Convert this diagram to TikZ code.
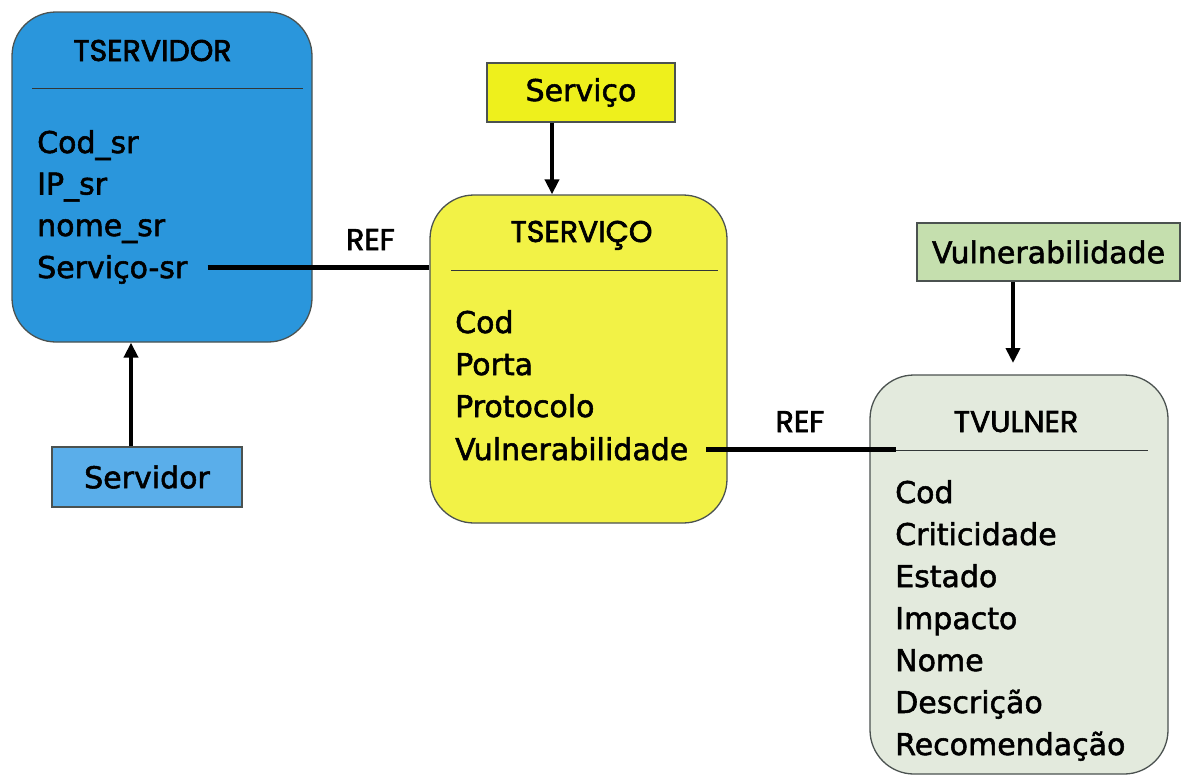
\documentclass[tikz,border=0pt]{standalone}
\usepackage{fontspec}
\setmainfont{DejaVu Sans}[FakeBold=1.8]
\newfontfamily\titlefont{Poppins}[FakeBold=2.2]
\usetikzlibrary{arrows.meta}

\definecolor{srvblue}{RGB}{42,150,220}
\definecolor{srvlight}{RGB}{90,174,234}
\definecolor{svcyellow}{RGB}{242,242,70}
\definecolor{svctag}{RGB}{238,240,28}
\definecolor{vulbox}{RGB}{227,234,221}
\definecolor{vultag}{RGB}{197,223,174}
\definecolor{boxedge}{RGB}{75,82,80}
\definecolor{sepcol}{RGB}{50,55,55}

\newcommand\fieldfont{\fontsize{30}{36}\selectfont}
\newcommand\headfont{\titlefont\fontsize{30}{34}\selectfont}

\begin{document}
\begin{tikzpicture}[x=1pt,y=-1pt,
  tbl/.style={draw=boxedge, line width=1.3pt, rounded corners=44pt, inner sep=0pt},
  tag/.style={draw=boxedge, line width=1.3pt, inner sep=0pt, font=\fieldfont},
  title/.style={font=\headfont, inner sep=0pt, anchor=base},
  field/.style={font=\fieldfont, inner sep=0pt, anchor=base west},
  reflabel/.style={font=\headfont, inner sep=0pt, anchor=base},
  sep/.style={draw=sepcol, line width=1.3pt},
  link/.style={line width=5pt},
  arr/.style={line width=4pt, -{Triangle[length=15pt,width=14pt]}},
]
\useasboundingbox (0,0) rectangle (1182,777);

% table boxes
\node[tbl, fill=srvblue, minimum width=300pt, minimum height=330pt] (tsrv) at (162,177) {};
\node[tbl, fill=svcyellow, minimum width=297pt, minimum height=328pt] (tsvc) at (578.5,359) {};
\node[tbl, fill=vulbox, minimum width=298pt, minimum height=399pt] (tvul) at (1019,574.5) {};

% label boxes
\node[tag, fill=svctag, minimum width=188pt, minimum height=59pt] (svcTag) at (581,92.5) {Serviço};
\node[tag, fill=vultag, minimum width=263pt, minimum height=58pt] (vulTag) at (1048.5,252) {Vulnerabilidade};
\node[tag, fill=srvlight, minimum width=190pt, minimum height=60pt] (srvTag) at (147,477) {Servidor};

% titles and separators
\node[title] (tsrvTitle) at (152.5,61) {TSERVIDOR};
\draw[sep] ([shift={(21pt,-77pt)}]tsrv.north west) -- ([shift={(-10pt,-77pt)}]tsrv.north east);
\node[title] (tsvcTitle) at (581.5,242) {TSERVIÇO};
\draw[sep] ([shift={(22pt,-76pt)}]tsvc.north west) -- ([shift={(-10pt,-76pt)}]tsvc.north east);
\node[title] (tvulTitle) at (1016,432) {TVULNER};
\draw[sep] ([shift={(27pt,-76pt)}]tvul.north west) -- ([shift={(-21pt,-76pt)}]tvul.north east);

% TSERVIDOR fields
\node[field] (srvCod) at (37,153) {Cod\_sr};
\node[field] (srvIp) at (37,194.5) {IP\_sr};
\node[field] (srvNome) at (37,236) {nome\_sr};
\node[field] (srvSvc) at (37,278) {Serviço-sr};

% TSERVIÇO fields
\node[field] (svcCod) at (455,333) {Cod};
\node[field] (svcPorta) at (455,375) {Porta};
\node[field] (svcProto) at (455,417) {Protocolo};
\node[field] (svcVul) at (455,460) {Vulnerabilidade};

% TVULNER fields
\node[field] (vulCod) at (895,503) {Cod};
\node[field] (vulCrit) at (895,545) {Criticidade};
\node[field] (vulEst) at (895,587) {Estado};
\node[field] (vulImp) at (895,629) {Impacto};
\node[field] (vulNome) at (895,671) {Nome};
\node[field] (vulDesc) at (895,713) {Descrição};
\node[field] (vulRec) at (895,755) {Recomendação};

% references
\node[reflabel] (ref1) at (370.5,250) {REF};
\node[reflabel] (ref2) at (800,432) {REF};
\coordinate (srvLinkA) at ([shift={(20pt,11pt)}]srvSvc.base east);
\draw[link] (srvLinkA) -- (srvLinkA -| tsvc.west);
\coordinate (svcLinkA) at ([shift={(18pt,11pt)}]svcVul.base east);
\coordinate (svcLinkB) at ([shift={(27pt,0pt)}]tvul.west);
\draw[link] (svcLinkA) -- (svcLinkA -| svcLinkB);

% arrows from the label boxes
\coordinate (svcAx) at (552,0);
\draw[arr] (svcTag.south -| svcAx) -- (tsvc.north -| svcAx);
\coordinate (vulTip) at (1013,363);
\draw[arr] (vulTag.south -| vulTip) -- (vulTip);
\coordinate (srvAx) at (131,0);
\draw[arr] (srvTag.north -| srvAx) -- (tsrv.south -| srvAx);
\end{tikzpicture}
\end{document}
